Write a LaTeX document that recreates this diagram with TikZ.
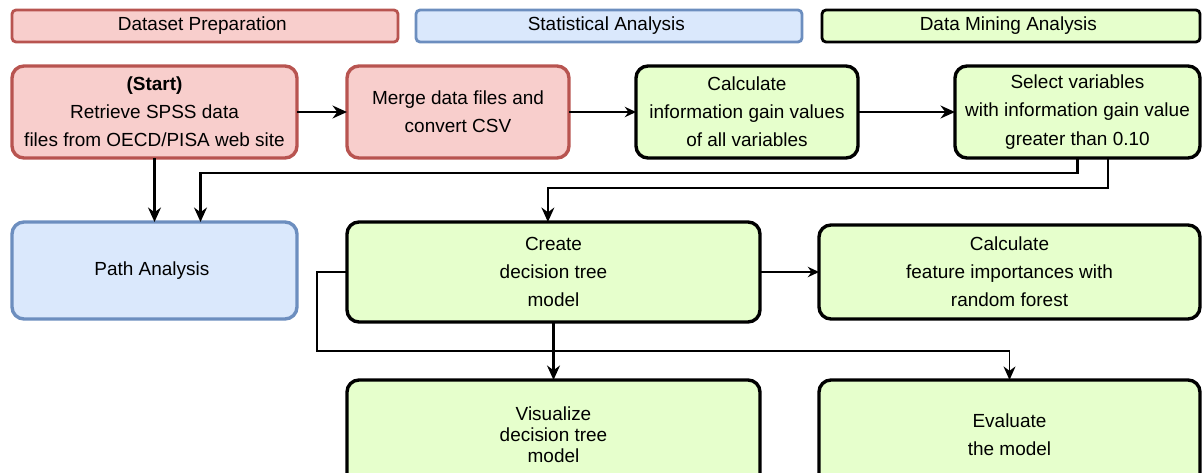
\documentclass[tikz,border=0pt]{standalone}
\usepackage{fontspec}
\setmainfont{Liberation Sans}
\usepackage {tikz}
\usetikzlibrary {positioning}
\usetikzlibrary{arrows.meta}

\definecolor{prepline}{HTML}{B85450}
\definecolor{prepfill}{HTML}{F8CECC}
\definecolor{statline}{HTML}{6C8EBF}
\definecolor{statfill}{HTML}{DAE8FC}
\definecolor{minefill}{HTML}{E6FFCC}

\tikzset{
    box/.style={rectangle, rounded corners=0.3cm, line width=2.4pt, inner sep=0pt, outer sep=0pt, align=center,
        font=\fontsize{13.5}{20}\selectfont},
    prepbox/.style={box, draw=prepline, fill=prepfill},
    statbox/.style={box, draw=statline, fill=statfill},
    minebox/.style={box, draw=black, fill=minefill},
    legbox/.style={rounded corners=0.1cm, line width=2pt, minimum height=0.8cm},
    thickline/.style={line width=1.8pt, -{Stealth[length=3.6mm,width=3.2mm]}},
    thinline/.style={line width=0.9pt, -{Stealth[length=2.8mm,width=2.6mm]}}
}

\begin{document}
\begin{tikzpicture}

    \useasboundingbox (0,0) rectangle (30.075,-11.8);

    % legend
    \node[prepbox, legbox, minimum width=9.65cm, anchor=north west] (legprep) at (0.3,-0.25) { Dataset Preparation };
    \node[statbox, legbox, minimum width=9.65cm, right=0.45cm of legprep] (legstat) { Statistical Analysis };
    \node[minebox, legbox, minimum width=9.45cm, right=0.5cm of legstat] (legmine) { Data Mining Analysis };

    % first row
    \node[prepbox, minimum width=7.125cm, minimum height=2.3cm, below=0.6cm of legprep.south west, anchor=north west] (start)
        { \textbf{(Start)} \\ Retrieve SPSS data \\ files from OECD/PISA web site };
    \node[prepbox, minimum width=5.55cm, minimum height=2.3cm, right=1.25cm of start] (merge) { Merge data files and \\ convert CSV };
    \node[minebox, minimum width=5.55cm, minimum height=2.3cm, right=1.675cm of merge] (infogain)
        { Calculate \\ information gain values \\ of all variables };
    \node[minebox, minimum width=6.125cm, minimum height=2.3cm, right=2.425cm of infogain] (select)
        { Select variables \\ with information gain value \\ greater than 0.10 };

    % second row
    \node[statbox, minimum width=7.125cm, minimum height=2.425cm, below=1.6cm of start] (path) { Path Analysis };
    \node[minebox, minimum width=10.325cm, minimum height=2.5cm, below=1.6cm of merge.south west, anchor=north west] (dtree)
        { Create \\ decision tree \\ model };
    \node[minebox, minimum width=9.525cm, minimum height=2.35cm, right=1.475cm of dtree] (forest)
        { Calculate \\ feature importances with \\ random forest };

    % third row
    \node[minebox, minimum width=10.325cm, minimum height=2.75cm, below=1.45cm of dtree,
        font=\fontsize{13.5}{15}\selectfont] (visual) { Visualize \\ decision tree \\ model };
    \node[minebox, minimum width=9.525cm, minimum height=2.75cm, right=1.475cm of visual] (evaluate) { Evaluate \\ the model };

    \path (dtree.south) -- (visual.north) coordinate[midway] (split);

    \draw[thickline] (start) -- (merge);
    \draw[thinline] (merge) -- (infogain);
    \draw[thickline] (infogain) -- (select);
    \draw[thickline] (start) -- (path);
    \draw[thickline] (select.south) -- ++(0,-0.375) -| ([xshift=1.15cm]path.north);
    \draw[thickline] ([xshift=0.76cm]select.south) -- ++(0,-0.75) -| ([xshift=-0.14cm]dtree.north);
    \draw[thinline] (dtree) -- (forest);
    \draw[thickline] (dtree) -- (visual);
    \draw[thinline, -{Stealth[length=3.4mm,width=3mm]}] (dtree.west) -- ++(-0.75,0) |- (split -| evaluate.north) -- (evaluate.north);

\end{tikzpicture}
\end{document}
